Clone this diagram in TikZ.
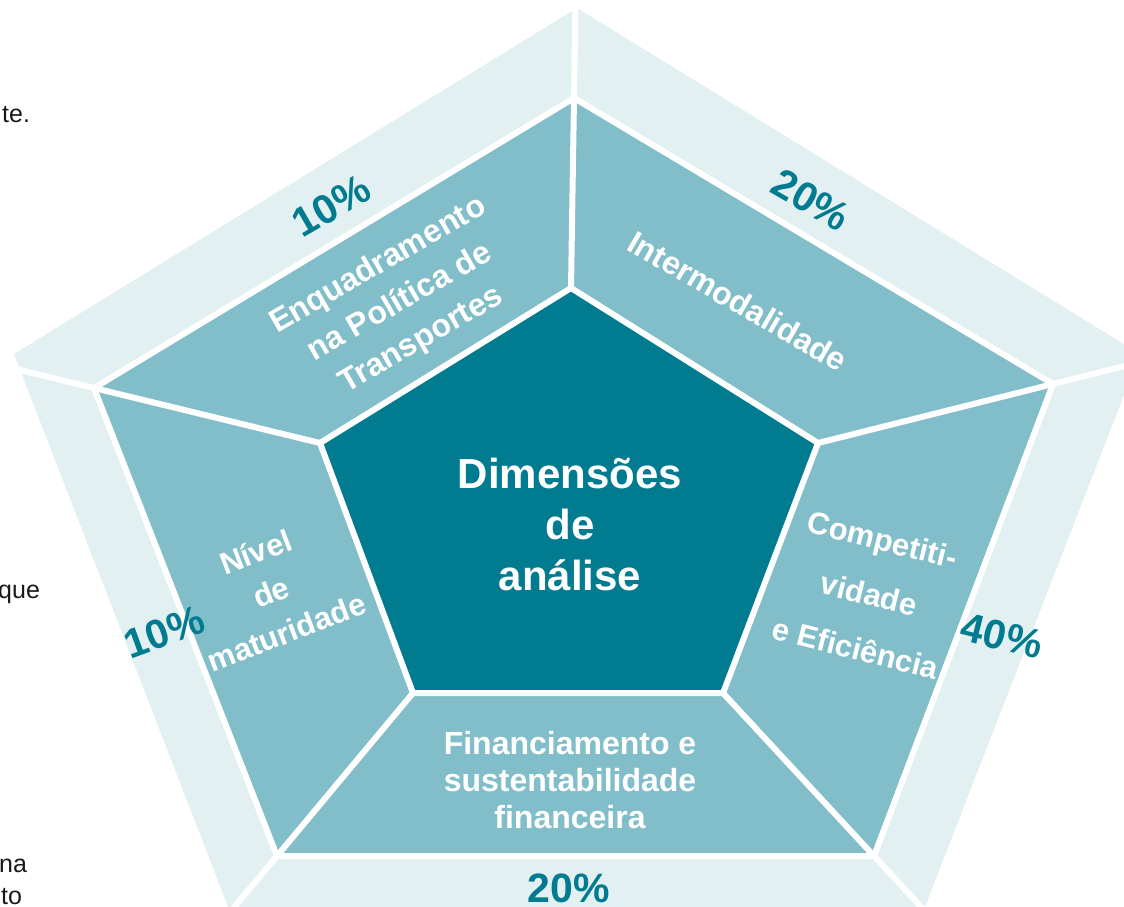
\documentclass[tikz,border=0pt]{standalone}
\usepackage{fontspec}
\setmainfont{Liberation Sans}
\usetikzlibrary{calc}
\definecolor{dark}{RGB}{0,123,143}
\definecolor{mid}{RGB}{129,190,201}
\definecolor{lite}{RGB}{226,240,242}
\begin{document}
\begin{tikzpicture}[x=1pt,y=-1pt,
  sep/.style={draw=white,line width=6pt,line join=round},
  pct/.style={font=\fontsize{41}{49}\selectfont\bfseries,text=dark,inner sep=0pt},
  lbl/.style={font=\fontsize{32}{37}\selectfont\bfseries,text=white,align=center,inner sep=0pt},
  ctr/.style={font=\fontsize{42}{51}\selectfont\bfseries,text=white,align=center,inner sep=0pt},
  side/.style={font=\fontsize{25}{29}\selectfont,text=black!90,anchor=base west,inner sep=0pt}]
\useasboundingbox (0,0) rectangle (1124,906);
\clip (0,0) rectangle (1124,906);
% inner pentagon
\coordinate (I1) at (571,288);
\coordinate (I2) at (818,443);
\coordinate (I3) at (723,693);
\coordinate (I4) at (413,693);
\coordinate (I5) at (320,443);
% middle band
\coordinate (M1) at (574,98);
\coordinate (M2) at (1053,384);
\coordinate (M3) at (874,856);
\coordinate (M4) at (277,856);
\coordinate (M5) at (94,388);
% outer band
\coordinate (O1) at (577,8);
\coordinate (O2) at (1140,354);
\coordinate (O3) at (914,935);
\coordinate (O4) at (239,935);
\coordinate (O5) at (14,354);
\fill[lite] (O1)--(O2)--(O3)--(O4)--(O5)--cycle;
\fill[mid] (M1)--(M2)--(M3)--(M4)--(M5)--cycle;
\fill[dark] (I1)--(I2)--(I3)--(I4)--(I5)--cycle;
\draw[sep] (M1)--(M2)--(M3)--(M4)--(M5)--cycle;
\draw[sep] (I1)--(I2)--(I3)--(I4)--(I5)--cycle;
\foreach \k in {1,...,5} \draw[sep] (I\k) -- ($(I\k)!1.7!(M\k)$);
% texts
\node[ctr] (c) at (570,524) {Dimensões\\de\\análise};
\node[lbl,rotate=30,font=\fontsize{32}{43}\selectfont\bfseries] (l1) at (400,303) {Enquadramento\\na Política de\\Transportes};
\node[lbl,rotate=-30] (l2) at (738,301) {Intermodalidade};
\node[lbl,rotate=-14,font=\fontsize{31}{56}\selectfont\bfseries] (l3) at (869,594) {Competiti-\\vidade\\e Eficiência};
\node[lbl] (l4) at (570,780) {Financiamento e\\sustentabilidade\\financeira};
\node[lbl,rotate=21,font=\fontsize{31}{43}\selectfont\bfseries] (l5) at (271,592) {Nível\\de\\maturidade};
\node[pct,rotate=30] (p1) at (331,206) {10\%};
\node[pct,rotate=-30] (p2) at (811,200) {20\%};
\node[pct,rotate=-14] (p3) at (1002,636) {40\%};
\node[pct] (p4) at (569,888) {20\%};
\node[pct,rotate=20] (p5) at (164,632) {10\%};
\node[side] (s1) at (2,122) {te.};
\node[side] (s2) at (-2,598) {que};
\node[side] (s3) at (-1,872) {na};
\node[side] (s4) at (1,904) {to};
\end{tikzpicture}
\end{document}
